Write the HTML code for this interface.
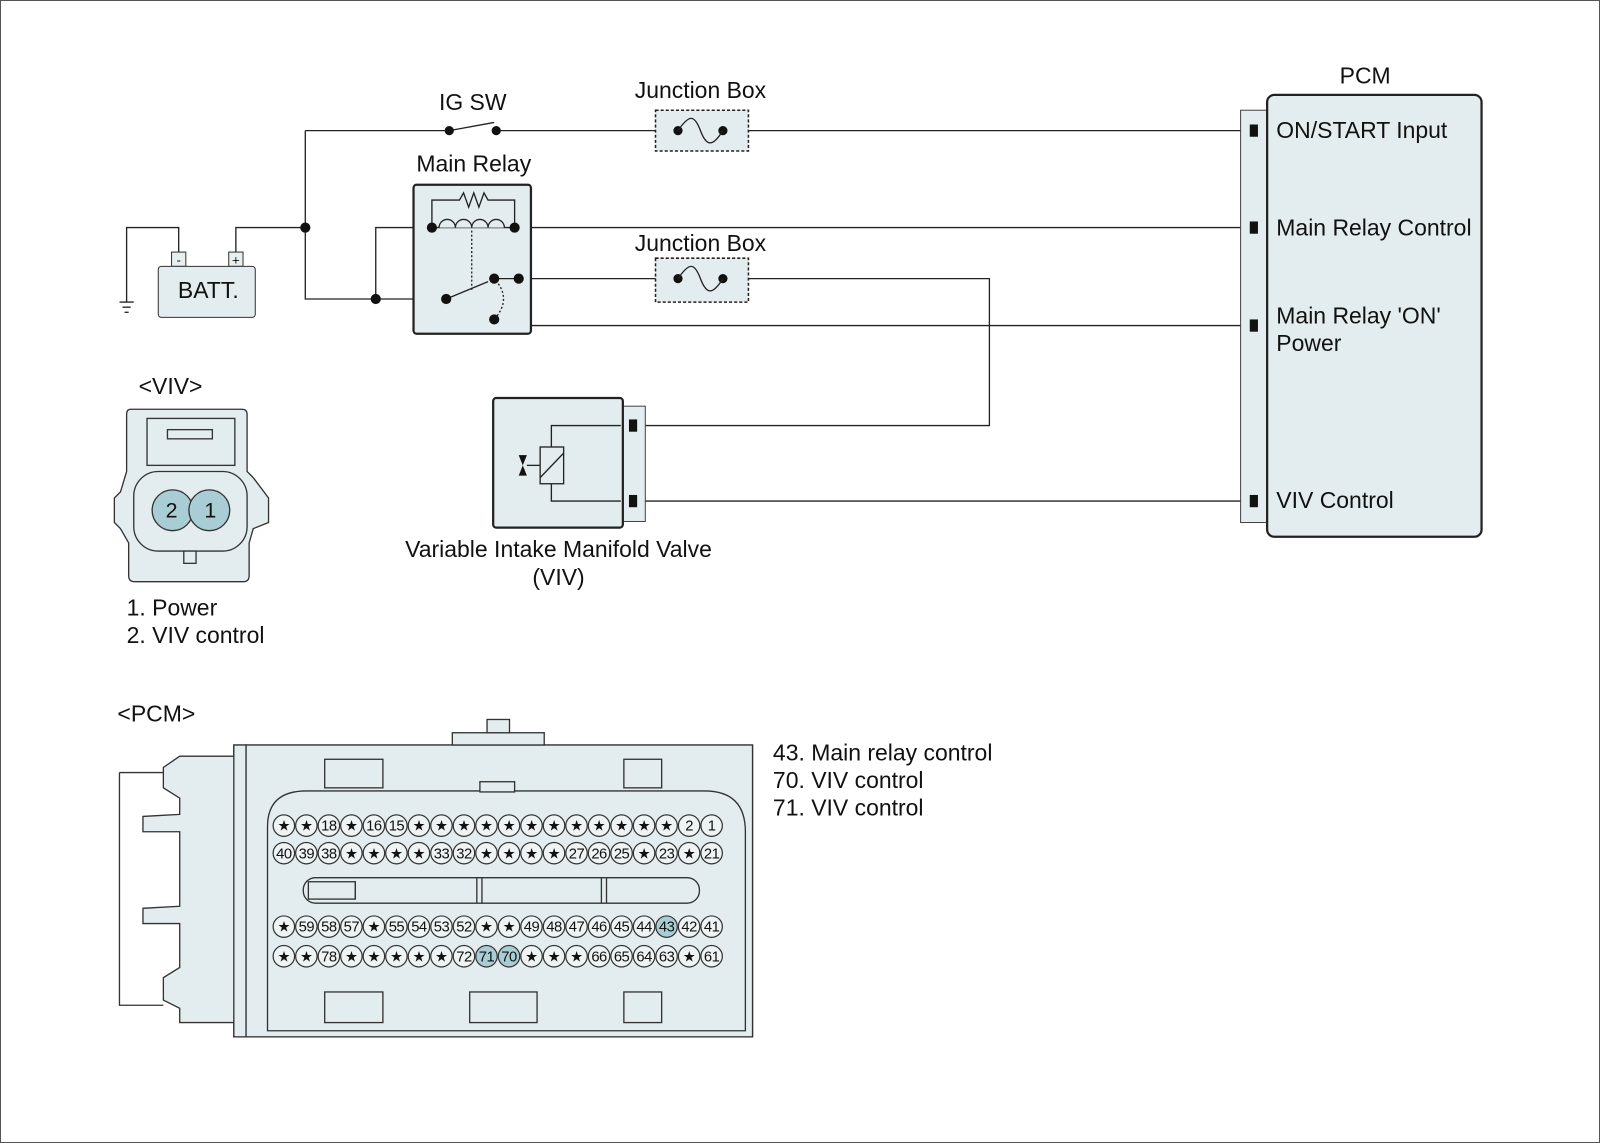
<!DOCTYPE html>
<html><head><meta charset="utf-8"><style>
html,body{margin:0;padding:0;background:#fff}
svg{display:block}
text{font-family:"Liberation Sans",Arial,sans-serif;fill:#111}
</style></head><body>
<svg id="s" width="1600" height="1143" viewBox="0 0 1567 1120" preserveAspectRatio="none" xmlns="http://www.w3.org/2000/svg">
<rect x="0.5" y="0.5" width="1566" height="1119" fill="#fff" stroke="#555"/>
<g stroke="#222" stroke-width="1.3" fill="none">
<polyline points="175,247 175,223 124,223 124,296"/>
<line x1="117" y1="296" x2="131" y2="296"/><line x1="120" y1="301" x2="128" y2="301"/><line x1="122" y1="306" x2="126" y2="306"/>
<polyline points="231,247 231,223 299,223"/>
<polyline points="299,128 299,293 437,293"/>
<line x1="299" y1="128" x2="440" y2="128"/>
<line x1="440" y1="128" x2="484" y2="120"/>
<line x1="486" y1="128" x2="664" y2="128"/>
<line x1="708" y1="128" x2="1225" y2="128"/>
<polyline points="368,293 368,223 423,223"/>
<line x1="504" y1="223" x2="1225" y2="223"/>
<line x1="484" y1="273" x2="664" y2="273"/>
<polyline points="708,273 969,273 969,417 620,417"/>
<polyline points="508,273 508,319 1225,319"/>
<line x1="620" y1="491" x2="1225" y2="491"/>
</g>
<rect x="168" y="247" width="14" height="14" fill="#e8eff1" stroke="#333"/>
<rect x="224" y="247" width="14" height="14" fill="#e8eff1" stroke="#333"/>
<text x="175" y="259" font-size="13" text-anchor="middle">-</text>
<text x="231" y="259" font-size="13" text-anchor="middle">+</text>
<rect x="155" y="261" width="95" height="50" rx="3" fill="#e3ecee" stroke="#333"/>
<text x="204" y="292" font-size="22.5" text-anchor="middle">BATT.</text>
<text x="463" y="108" font-size="22.5" text-anchor="middle">IG SW</text>
<circle cx="440" cy="128" r="4.5" fill="#111"/><circle cx="486" cy="128" r="4.5" fill="#111"/>
<circle cx="299" cy="223" r="5" fill="#111"/>
<text x="686" y="96" font-size="22.5" text-anchor="middle">Junction Box</text>
<rect x="642" y="108" width="91" height="40" fill="#e3ecee" stroke="#222" stroke-dasharray="3,2" stroke-width="1.5"/>
<circle cx="664" cy="128" r="4.5" fill="#111"/><circle cx="708" cy="128" r="4.5" fill="#111"/>
<path d="M664,128 C675,112 680,112 686,128 C692,144 698,144 708,128" fill="none" stroke="#222" stroke-width="1.3"/>
<text x="686" y="246" font-size="22.5" text-anchor="middle">Junction Box</text>
<rect x="642" y="253" width="91" height="43" fill="#e3ecee" stroke="#222" stroke-dasharray="3,2" stroke-width="1.5"/>
<circle cx="664" cy="273" r="4.5" fill="#111"/><circle cx="708" cy="273" r="4.5" fill="#111"/>
<path d="M664,273 C675,257 680,257 686,273 C692,289 698,289 708,273" fill="none" stroke="#222" stroke-width="1.3"/>
<text x="464" y="168" font-size="22.5" text-anchor="middle">Main Relay</text>
<rect x="405" y="181" width="115" height="146" rx="3" fill="#e3ecee" stroke="#222" stroke-width="2.2"/>
<g stroke="#222" stroke-width="1.3" fill="none">
<polyline points="423,223 423,196 450,196 454,189 459,203 464,189 469,203 474,189 478,196 504,196 504,223"/>
<line x1="423" y1="223" x2="504" y2="223"/>
<path d="M430,223 a8,8 0 0 1 16,0 a8,8 0 0 1 16,0 a8,8 0 0 1 16,0 a8,8 0 0 1 16,0" fill="#e3ecee"/>
<line x1="462" y1="226" x2="462" y2="284" stroke-dasharray="2,2"/>
<line x1="437" y1="293" x2="478" y2="276"/>
<line x1="484" y1="273" x2="508" y2="273"/>
<path d="M488,278 Q500,295 484,313" stroke-dasharray="2,2"/>
</g>
<circle cx="423" cy="223" r="5" fill="#111"/><circle cx="504" cy="223" r="5" fill="#111"/>
<circle cx="437" cy="293" r="5" fill="#111"/><circle cx="484" cy="273" r="5" fill="#111"/>
<circle cx="508" cy="273" r="5" fill="#111"/><circle cx="484" cy="313" r="5" fill="#111"/>
<circle cx="368" cy="293" r="5" fill="#111"/>
<text x="1337" y="82" font-size="22.5" text-anchor="middle">PCM</text>
<rect x="1215" y="108" width="28" height="404" fill="#e3ecee" stroke="#444"/>
<rect x="1241" y="93" width="210" height="433" rx="7" fill="#e3ecee" stroke="#222" stroke-width="2.2"/>
<rect x="1224" y="122" width="8" height="12" fill="#111"/><rect x="1224" y="217" width="8" height="12" fill="#111"/>
<rect x="1224" y="313" width="8" height="12" fill="#111"/><rect x="1224" y="485" width="8" height="12" fill="#111"/>
<text x="1250" y="135" font-size="22.5">ON/START Input</text>
<text x="1250" y="231" font-size="22.5">Main Relay Control</text>
<text x="1250" y="317" font-size="22.5">Main Relay 'ON'</text>
<text x="1250" y="344" font-size="22.5">Power</text>
<text x="1250" y="498" font-size="22.5">VIV Control</text>
<rect x="608" y="398" width="24" height="113" fill="#e3ecee" stroke="#444"/>
<rect x="483" y="390" width="127" height="127" rx="3" fill="#e3ecee" stroke="#222" stroke-width="2.2"/>
<rect x="616" y="411" width="8" height="12" fill="#111"/><rect x="616" y="485" width="8" height="12" fill="#111"/>
<g stroke="#222" stroke-width="1.3" fill="none">
<polyline points="608,417 540,417 540,438"/><polyline points="608,491 540,491 540,474"/>
<rect x="529" y="438" width="23" height="36" fill="#e3ecee"/>
<line x1="529" y1="468" x2="552" y2="444"/>
<line x1="529" y1="456" x2="516" y2="456"/>
</g>
<path d="M508,446 L516,446 L512,456 Z M508,466 L516,466 L512,456 Z" fill="#111"/>
<text x="547" y="546" font-size="22.5" text-anchor="middle">Variable Intake Manifold Valve</text>
<text x="547" y="573" font-size="22.5" text-anchor="middle">(VIV)</text>
<text x="167" y="386" font-size="22.5" text-anchor="middle">&lt;VIV&gt;</text>
<g fill="#e3ecee" stroke="#333" stroke-width="1.3">
<path d="M128,401 L237,401 Q242,401 242,406 L242,462 L248,468 L263,488 L263,512 L248,518 L244,532 L244,564 Q244,570 238,570 L132,570 Q126,570 126,564 L126,532 L118,518 L112,512 L112,488 L118,482 L124,462 L124,406 Q124,401 128,401 Z"/>
<rect x="144" y="410" width="86" height="46"/>
<rect x="164" y="421" width="44" height="9"/>
<rect x="131" y="462" width="111" height="78" rx="24"/>
<rect x="180" y="540" width="12" height="12"/>
<circle cx="169" cy="500" r="20" fill="#a8cdd5"/><circle cx="205" cy="500" r="20" fill="#a8cdd5"/>
</g>
<text x="168" y="507" font-size="21" text-anchor="middle">2</text>
<text x="206" y="507" font-size="21" text-anchor="middle">1</text>
<text x="124" y="603" font-size="22.5">1. Power</text>
<text x="124" y="630" font-size="22.5">2. VIV control</text>
<text x="115" y="707" font-size="22.5">&lt;PCM&gt;</text>
<g fill="#e3ecee" stroke="#333" stroke-width="1.3">
<path d="M176,741 L229,741 L229,730 L737,730 L737,1016 L229,1016 L229,1002 L176,1002 L176,988 L160,980 L160,958 L176,948 L176,905 L140,905 L140,890 L176,888 L176,815 L140,815 L140,800 L176,798 L176,782 L160,772 L160,752 L176,741 Z"/>
<path d="M117,757 L160,757 M117,757 L117,985 L160,985" fill="none"/>
<rect x="229" y="730" width="12" height="286"/>
<rect x="241" y="730" width="496" height="286"/>
<rect x="443" y="718" width="90" height="12"/>
<rect x="477" y="705" width="22" height="13"/>
<path d="M262,1010 L262,810 Q262,775 300,775 L690,775 Q730,775 730,815 L730,1010 Z"/>
<rect x="318" y="744" width="57" height="28"/><rect x="611" y="744" width="37" height="28"/>
<rect x="470" y="766" width="34" height="10"/>
<rect x="318" y="972" width="57" height="30"/><rect x="611" y="972" width="37" height="30"/>
<rect x="460" y="972" width="66" height="30"/>
<rect x="297" y="860" width="388" height="25" rx="12"/>
<rect x="302" y="864" width="46" height="17"/>
<line x1="348" y1="864" x2="348" y2="881"/>
<line x1="467" y1="860" x2="467" y2="885"/><line x1="472" y1="860" x2="472" y2="885"/>
<line x1="589" y1="860" x2="589" y2="885"/><line x1="594" y1="860" x2="594" y2="885"/>
</g>
<g id="pins"></g>
<text x="757" y="745" font-size="22.5">43. Main relay control</text>
<text x="757" y="772" font-size="22.5">70. VIV control</text>
<text x="757" y="799" font-size="22.5">71. VIV control</text>
</svg>
<script>
var rows=[
["*","*","18","*","16","15","*","*","*","*","*","*","*","*","*","*","*","*","2","1"],
["40","39","38","*","*","*","*","33","32","*","*","*","*","27","26","25","*","23","*","21"],
["*","59","58","57","*","55","54","53","52","*","*","49","48","47","46","45","44","43","42","41"],
["*","*","78","*","*","*","*","*","72","71","70","*","*","*","66","65","64","63","*","61"]];
var ys=[809,836,908,937],g=document.getElementById("pins"),h="";
rows.forEach(function(r,ri){r.forEach(function(p,i){var x=278+i*22.05,y=ys[ri];
var f=(p=="43"||p=="70"||p=="71")?"#a8cdd5":"#eef3f4";
h+='<circle cx="'+x+'" cy="'+y+'" r="10.5" fill="'+f+'" stroke="#333" stroke-width="1.2"/>';
if(p=="*")h+='<text x="'+x+'" y="'+(y+5)+'" font-size="14" text-anchor="middle" font-family="DejaVu Sans">★</text>';
else h+='<text x="'+x+'" y="'+(y+5)+'" font-size="14.5" text-anchor="middle" letter-spacing="-0.5">'+p+'</text>';});});
g.innerHTML=h;
</script>
</body></html>
